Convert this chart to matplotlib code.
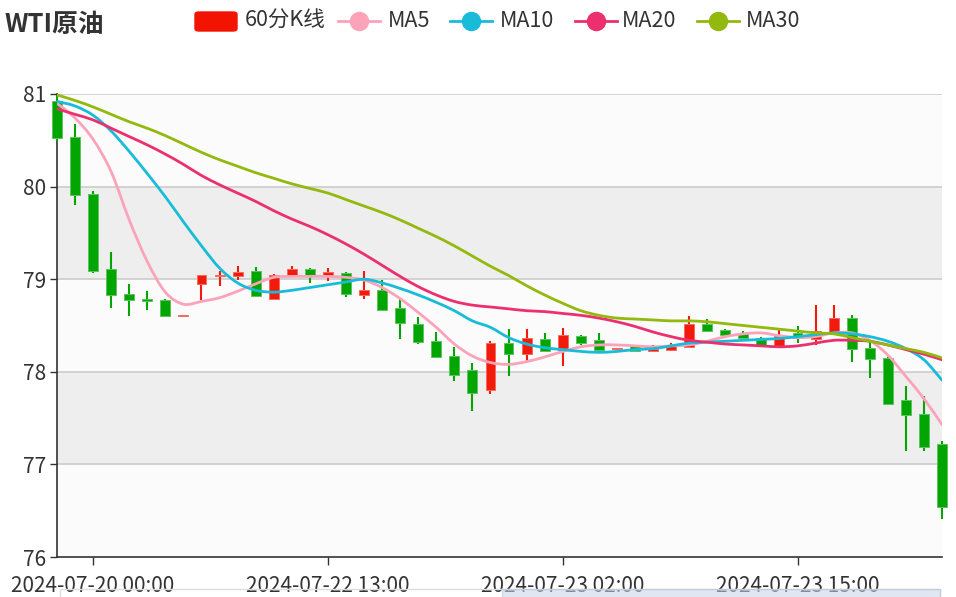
import pandas as pd
import matplotlib
matplotlib.use("Agg")
import matplotlib.pyplot as plt
from matplotlib.patches import FancyBboxPatch, Rectangle, PathPatch
from matplotlib.lines import Line2D
from matplotlib.path import Path

plt.rcParams["font.family"] = ["Noto Sans CJK SC", "DejaVu Sans"]

# hourly bars, weekend gap between 07-20 05:00 and 07-22 06:00
times = list(pd.date_range("2024-07-19 22:00", periods=8, freq="h")) + list(
    pd.date_range("2024-07-22 06:00", periods=42, freq="h")
)
time_labels = [t.strftime("%Y-%m-%d %H:%M") for t in times]

open_ = [80.92, 80.54, 79.92, 79.11, 78.84, 78.79, 78.77, 78.60, 78.95, 79.03,
         79.03, 79.09, 78.79, 79.03, 79.11, 79.03, 79.07, 78.83, 78.88, 78.69,
         78.52, 78.33, 78.17, 78.02, 77.80, 78.31, 78.19, 78.35, 78.24, 78.39,
         78.34, 78.25, 78.28, 78.22, 78.24, 78.27, 78.52, 78.45, 78.42, 78.37,
         78.27, 78.42, 78.35, 78.42, 78.58, 78.26, 78.15, 77.70, 77.54, 77.22]
close = [80.52, 79.91, 79.09, 78.83, 78.78, 78.76, 78.60, 78.61, 79.04, 79.05,
         79.08, 78.82, 79.05, 79.11, 79.03, 79.08, 78.84, 78.88, 78.67, 78.53,
         78.32, 78.16, 77.97, 77.77, 78.31, 78.19, 78.36, 78.23, 78.40, 78.31,
         78.24, 78.26, 78.22, 78.25, 78.28, 78.52, 78.44, 78.40, 78.36, 78.28,
         78.39, 78.36, 78.44, 78.58, 78.25, 78.14, 77.65, 77.53, 77.19, 76.54]
high = [80.99, 80.68, 79.95, 79.29, 78.95, 78.87, 78.79, 78.61, 79.05, 79.09,
        79.14, 79.13, 79.06, 79.14, 79.12, 79.12, 79.08, 79.09, 78.99, 78.79,
        78.59, 78.43, 78.27, 78.10, 78.33, 78.46, 78.46, 78.42, 78.47, 78.40,
        78.42, 78.26, 78.29, 78.29, 78.31, 78.60, 78.57, 78.46, 78.44, 78.38,
        78.46, 78.49, 78.72, 78.72, 78.61, 78.34, 78.16, 77.85, 77.74, 77.25]
low = [80.49, 79.80, 79.07, 78.69, 78.60, 78.67, 78.60, 78.60, 78.77, 78.93,
       78.99, 78.81, 78.78, 79.02, 78.96, 78.98, 78.81, 78.79, 78.67, 78.35,
       78.30, 78.16, 77.90, 77.58, 77.76, 77.95, 78.12, 78.22, 78.06, 78.29,
       78.23, 78.25, 78.22, 78.21, 78.23, 78.27, 78.44, 78.36, 78.36, 78.28,
       78.26, 78.31, 78.29, 78.41, 78.11, 77.93, 77.64, 77.15, 77.14, 76.41]

ma5 = [80.90, 80.74, 80.51, 80.16, 79.64, 79.19, 78.86, 78.73, 78.76, 78.80,
       78.87, 78.95, 79.02, 79.03, 79.03, 79.03, 79.02, 78.99, 78.91, 78.79,
       78.64, 78.48, 78.30, 78.17, 78.10, 78.08, 78.11, 78.16, 78.22, 78.27,
       78.29, 78.29, 78.28, 78.27, 78.28, 78.29, 78.33, 78.38, 78.41, 78.42,
       78.39, 78.37, 78.38, 78.42, 78.42, 78.34, 78.18, 77.95, 77.71, 77.43]
ma10 = [80.92, 80.87, 80.77, 80.60, 80.38, 80.14, 79.89, 79.62, 79.36, 79.12,
        78.96, 78.88, 78.86, 78.88, 78.91, 78.94, 78.97, 79.00, 78.96, 78.90,
        78.83, 78.75, 78.66, 78.55, 78.48, 78.37, 78.30, 78.26, 78.24, 78.22,
        78.21, 78.22, 78.24, 78.25, 78.28, 78.31, 78.32, 78.33, 78.34, 78.35,
        78.36, 78.38, 78.40, 78.42, 78.41, 78.38, 78.33, 78.25, 78.13, 77.91]
ma20 = [80.84, 80.78, 80.72, 80.63, 80.54, 80.45, 80.35, 80.24, 80.12, 80.02,
        79.93, 79.84, 79.74, 79.65, 79.57, 79.48, 79.38, 79.27, 79.15, 79.03,
        78.92, 78.83, 78.76, 78.72, 78.70, 78.68, 78.66, 78.65, 78.63, 78.61,
        78.58, 78.54, 78.49, 78.43, 78.38, 78.34, 78.32, 78.30, 78.29, 78.28,
        78.27, 78.28, 78.31, 78.34, 78.34, 78.33, 78.29, 78.24, 78.19, 78.13]
ma30 = [80.99, 80.93, 80.86, 80.78, 80.70, 80.63, 80.55, 80.46, 80.37, 80.29,
        80.22, 80.15, 80.09, 80.03, 79.98, 79.93, 79.86, 79.79, 79.72, 79.64,
        79.55, 79.46, 79.36, 79.25, 79.14, 79.04, 78.93, 78.83, 78.74, 78.66,
        78.61, 78.58, 78.57, 78.56, 78.55, 78.55, 78.54, 78.52, 78.50, 78.48,
        78.46, 78.44, 78.42, 78.41, 78.37, 78.33, 78.29, 78.25, 78.21, 78.15]

UP = "#f21a0a"
DOWN = "#03a503"
UP_EDGE = "#f76b5e"
DOWN_EDGE = "#5cc45c"
MA_STYLES = [("MA5", ma5, "#fca3ba"), ("MA10", ma10, "#18bcd9"),
             ("MA20", ma20, "#ec2f6e"), ("MA30", ma30, "#93b80e")]
TEXT = "#333333"

W, H = 956, 597
fig = plt.figure(figsize=(W / 100, H / 100), dpi=100)
ax = fig.add_axes([57 / W, 1 - 557 / H, 885 / W, 463 / H])


def fx(px):
    return px / W


def fy(py):
    return 1 - py / H


def smooth_path(ys, k=1 / 6):
    # cubic bezier through the points (like echarts smooth: true)
    m = len(ys)
    verts = [(0, ys[0])]
    codes = [Path.MOVETO]
    for i in range(m - 1):
        a, b = max(i - 1, 0), min(i + 2, m - 1)
        verts.append((i + (i + 1 - a) * k, ys[i] + (ys[i + 1] - ys[a]) * k))
        verts.append((i + 1 - (b - i) * k, ys[i + 1] - (ys[b] - ys[i]) * k))
        verts.append((i + 1, ys[i + 1]))
        codes += [Path.CURVE4] * 3
    return Path(verts, codes)


# ---------- background bands / grid ----------
for k, lo in enumerate(range(76, 81)):
    ax.axhspan(lo, lo + 1, color="#eeeeee" if k % 2 == 1 else "#fbfbfb", lw=0, zorder=0)
for v in range(77, 82):
    ax.axhline(v, color="#cccccc", lw=1.2, zorder=1)

# ---------- candles ----------
n = len(close)
for i in range(n):
    up = close[i] >= open_[i]
    col = UP if up else DOWN
    edge = UP_EDGE if up else DOWN_EDGE
    ax.vlines(i, low[i], high[i], color=col, lw=1.5, zorder=3, clip_on=False)
    bottom = min(open_[i], close[i])
    height = max(abs(close[i] - open_[i]), 0.012)
    ax.bar(i, height, bottom=bottom, width=0.55, color=col, edgecolor=edge,
           linewidth=0.7, zorder=4, clip_on=False)

# ---------- moving averages ----------
for name, vals, col in MA_STYLES:
    ax.add_patch(PathPatch(smooth_path(vals), facecolor="none", edgecolor=col,
                           lw=2.0, zorder=5, capstyle="round"))

ax.set_xlim(0, n - 1)
ax.set_ylim(76, 81)
ax.set_yticks(range(76, 82))
ax.set_yticklabels([str(v) for v in range(76, 82)])
tick_idx = list(range(2, n, 13))
ax.set_xticks(tick_idx)
ax.set_xticklabels([time_labels[i] for i in tick_idx])
ax.tick_params(axis="y", length=5, width=1, color=TEXT, labelcolor=TEXT,
               labelsize=15, pad=3)
ax.tick_params(axis="x", length=6, width=1, color=TEXT, labelcolor=TEXT,
               labelsize=15, pad=7)
for s in ["top", "right"]:
    ax.spines[s].set_visible(False)
for s in ["left", "bottom"]:
    ax.spines[s].set_color(TEXT)
    ax.spines[s].set_linewidth(1.2)
ax.set_facecolor("white")

# ---------- title ----------
fig.text(fx(5), fy(24), "WTI原油", fontsize=18.5, fontweight="bold", color=TEXT,
         va="center", ha="left")

# ---------- legend ----------
ly = fy(21)
fig.patches.append(FancyBboxPatch((fx(195), fy(31)), fx(42), 19 / H,
                                  boxstyle="round,pad=0,rounding_size=0.004",
                                  transform=fig.transFigure, color="#f21400",
                                  zorder=10))
fig.text(fx(245), ly, "60分K线", fontsize=15.5, color=TEXT, va="center", ha="left")
legend_x = [(338, 388), (450, 500), (575, 622), (697, 746)]
for (lx, tx), (name, vals, col) in zip(legend_x, MA_STYLES):
    fig.lines.append(Line2D([fx(lx), fx(lx + 42)], [ly, ly], color=col, lw=2,
                            transform=fig.transFigure, zorder=10))
    fig.lines.append(Line2D([fx(lx + 21)], [ly], marker="o", markersize=13,
                            color=col, transform=fig.transFigure, zorder=11))
    fig.text(fx(tx), ly, name, fontsize=15.5, color=TEXT, va="center", ha="left")

# ---------- data zoom slider (cut off at bottom) ----------
fig.patches.append(Rectangle((fx(60), fy(600)), fx(880), 11 / H, transform=fig.transFigure,
                             facecolor="none", edgecolor="#d8dde6", lw=1, zorder=10))
fig.patches.append(Rectangle((fx(502), fy(600)), fx(438), 11 / H, transform=fig.transFigure,
                             facecolor="#c9d4e8", alpha=0.55, edgecolor="#b8c3d9",
                             lw=1, zorder=11))

fig.savefig("out.png", dpi=100)
